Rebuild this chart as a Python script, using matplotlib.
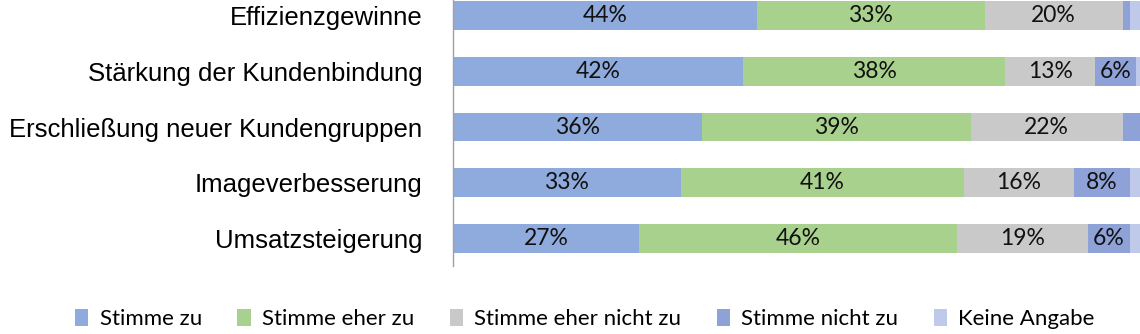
import matplotlib.pyplot as plt
import numpy as np

# survey answers in percent, one list per answer option
categories = ["Effizienzgewinne", "Stärkung der Kundenbindung",
              "Erschließung neuer Kundengruppen", "Imageverbesserung",
              "Umsatzsteigerung"]
stimme_zu = [44, 42, 36, 33, 27]
eher_zu = [33, 38, 39, 41, 46]
eher_nicht_zu = [20, 13, 22, 16, 19]
nicht_zu = [1, 6, 3, 8, 6]
keine_angabe = [2, 1, 0, 2, 2]

series_names = ["Stimme zu", "Stimme eher zu", "Stimme eher nicht zu",
                "Stimme nicht zu", "Keine Angabe"]
series = [stimme_zu, eher_zu, eher_nicht_zu, nicht_zu, keine_angabe]
colors = ["#8FAADC", "#A9D18E", "#C9C9C9", "#8EA2D8", "#BFCAEA"]

fig = plt.figure(figsize=(11.4, 3.34), dpi=100)
# plot area runs past the top edge a little, like the original export
ax = fig.add_axes([0.3974, 0.2036, 0.6055, 0.8323])

y = np.arange(len(categories))
left = np.zeros(len(categories))
for name, vals, col in zip(series_names, series, colors):
    vals = np.array(vals) / 100
    ax.barh(y, vals, left=left, height=0.52, color=col, label=name)
    for yi, l, v in zip(y, left, vals):
        if v >= 0.05:
            ax.text(l + v / 2, yi, f"{round(v * 100)}%", ha="center",
                    va="center", fontsize=16.5, family="Lato", color="#111111")
    left += vals

ax.set_xlim(0, 1)
ax.set_ylim(len(categories) - 0.5, -0.5)
ax.set_yticks(y)
ax.set_yticklabels(categories, fontsize=18.5, family="Liberation Sans")
ax.tick_params(axis="y", length=0, pad=22)
ax.set_xticks([])
for s in ["top", "right", "bottom"]:
    ax.spines[s].set_visible(False)
ax.spines["left"].set_color("#A0A0A0")
ax.spines["left"].set_linewidth(1)

fig.legend(loc="center", bbox_to_anchor=(0.513, 0.045), ncol=5, frameon=False,
           prop={"family": "Lato", "size": 16}, handlelength=0.6,
           handleheight=0.8, handletextpad=0.5, columnspacing=1.6)

fig.savefig("out.png", dpi=100)
